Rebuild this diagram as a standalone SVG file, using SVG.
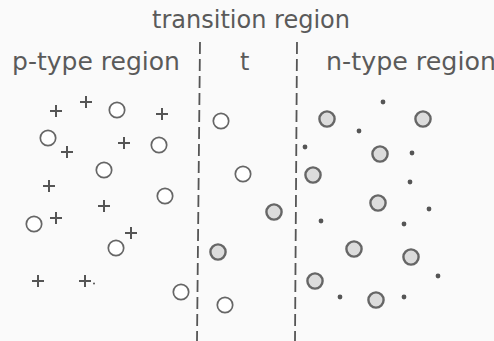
<svg xmlns="http://www.w3.org/2000/svg" xmlns:xlink="http://www.w3.org/1999/xlink" width="494" height="341" viewBox="0 0 494 341">
<style>
.lbl{font-family:"DejaVu Sans","Liberation Sans",sans-serif;font-size:24px;fill:#5a5a5a}
.hole{fill:#fff;stroke:#666;stroke-width:1.7}
.ion{fill:#dcdcdc;stroke:#666;stroke-width:2.4}
.dot{fill:#555}
.plus{stroke:#555;stroke-width:2;fill:none}
.dash{stroke:#555;stroke-width:1.8;stroke-dasharray:12 5;fill:none}
</style>
<defs>
<path id="p" class="plus" d="M-6,0H6M0,-6V6"/>
<circle id="o" class="hole" r="7.7"/>
<circle id="s" class="ion" r="7.6"/>
<circle id="d" class="dot" r="2.4"/>
</defs>
<rect width="494" height="341" fill="#fafafa"/>
<g id="labels">
<text id="lbl-transition" class="lbl" x="152" y="28" textLength="198" lengthAdjust="spacingAndGlyphs">transition region</text>
<text id="lbl-p" class="lbl" x="12" y="70" textLength="168" lengthAdjust="spacingAndGlyphs">p-type region</text>
<text id="lbl-t" class="lbl" x="240" y="70">t</text>
<text id="lbl-n" class="lbl" x="326" y="70" textLength="170" lengthAdjust="spacingAndGlyphs">n-type region</text>
</g>
<g id="connectors">
<path class="dash" d="M200,42L197,341"/>
<path class="dash" d="M297,42L295,341"/>
</g>
<g id="plus-charges">
<use xlink:href="#p" x="56" y="111"/>
<use xlink:href="#p" x="86" y="102"/>
<use xlink:href="#p" x="162" y="114"/>
<use xlink:href="#p" x="67" y="152"/>
<use xlink:href="#p" x="124" y="143"/>
<use xlink:href="#p" x="49" y="186"/>
<use xlink:href="#p" x="104" y="206"/>
<use xlink:href="#p" x="56" y="218"/>
<use xlink:href="#p" x="131" y="233"/>
<use xlink:href="#p" x="38" y="281"/>
<use xlink:href="#p" x="85" y="281"/>
<circle cx="94" cy="283.5" r="1" fill="#555"/>
</g>
<g id="holes">
<use xlink:href="#o" x="117" y="110"/>
<use xlink:href="#o" x="48" y="138"/>
<use xlink:href="#o" x="159" y="145"/>
<use xlink:href="#o" x="104" y="170"/>
<use xlink:href="#o" x="165" y="196"/>
<use xlink:href="#o" x="34" y="224"/>
<use xlink:href="#o" x="116" y="248"/>
<use xlink:href="#o" x="181" y="292"/>
<use xlink:href="#o" x="221" y="121"/>
<use xlink:href="#o" x="243" y="174"/>
<use xlink:href="#o" x="225" y="305"/>
</g>
<g id="ions">
<use xlink:href="#s" x="274" y="212"/>
<use xlink:href="#s" x="218" y="252"/>
<use xlink:href="#s" x="327" y="119"/>
<use xlink:href="#s" x="423" y="119"/>
<use xlink:href="#s" x="380" y="154"/>
<use xlink:href="#s" x="313" y="175"/>
<use xlink:href="#s" x="378" y="203"/>
<use xlink:href="#s" x="354" y="249"/>
<use xlink:href="#s" x="411" y="257"/>
<use xlink:href="#s" x="315" y="281"/>
<use xlink:href="#s" x="376" y="300"/>
</g>
<g id="electrons">
<use xlink:href="#d" x="383" y="102"/>
<use xlink:href="#d" x="359" y="131"/>
<use xlink:href="#d" x="305" y="147"/>
<use xlink:href="#d" x="412" y="153"/>
<use xlink:href="#d" x="410" y="182"/>
<use xlink:href="#d" x="429" y="209"/>
<use xlink:href="#d" x="321" y="221"/>
<use xlink:href="#d" x="404" y="224"/>
<use xlink:href="#d" x="438" y="276"/>
<use xlink:href="#d" x="340" y="297"/>
<use xlink:href="#d" x="404" y="297"/>
</g>
</svg>
